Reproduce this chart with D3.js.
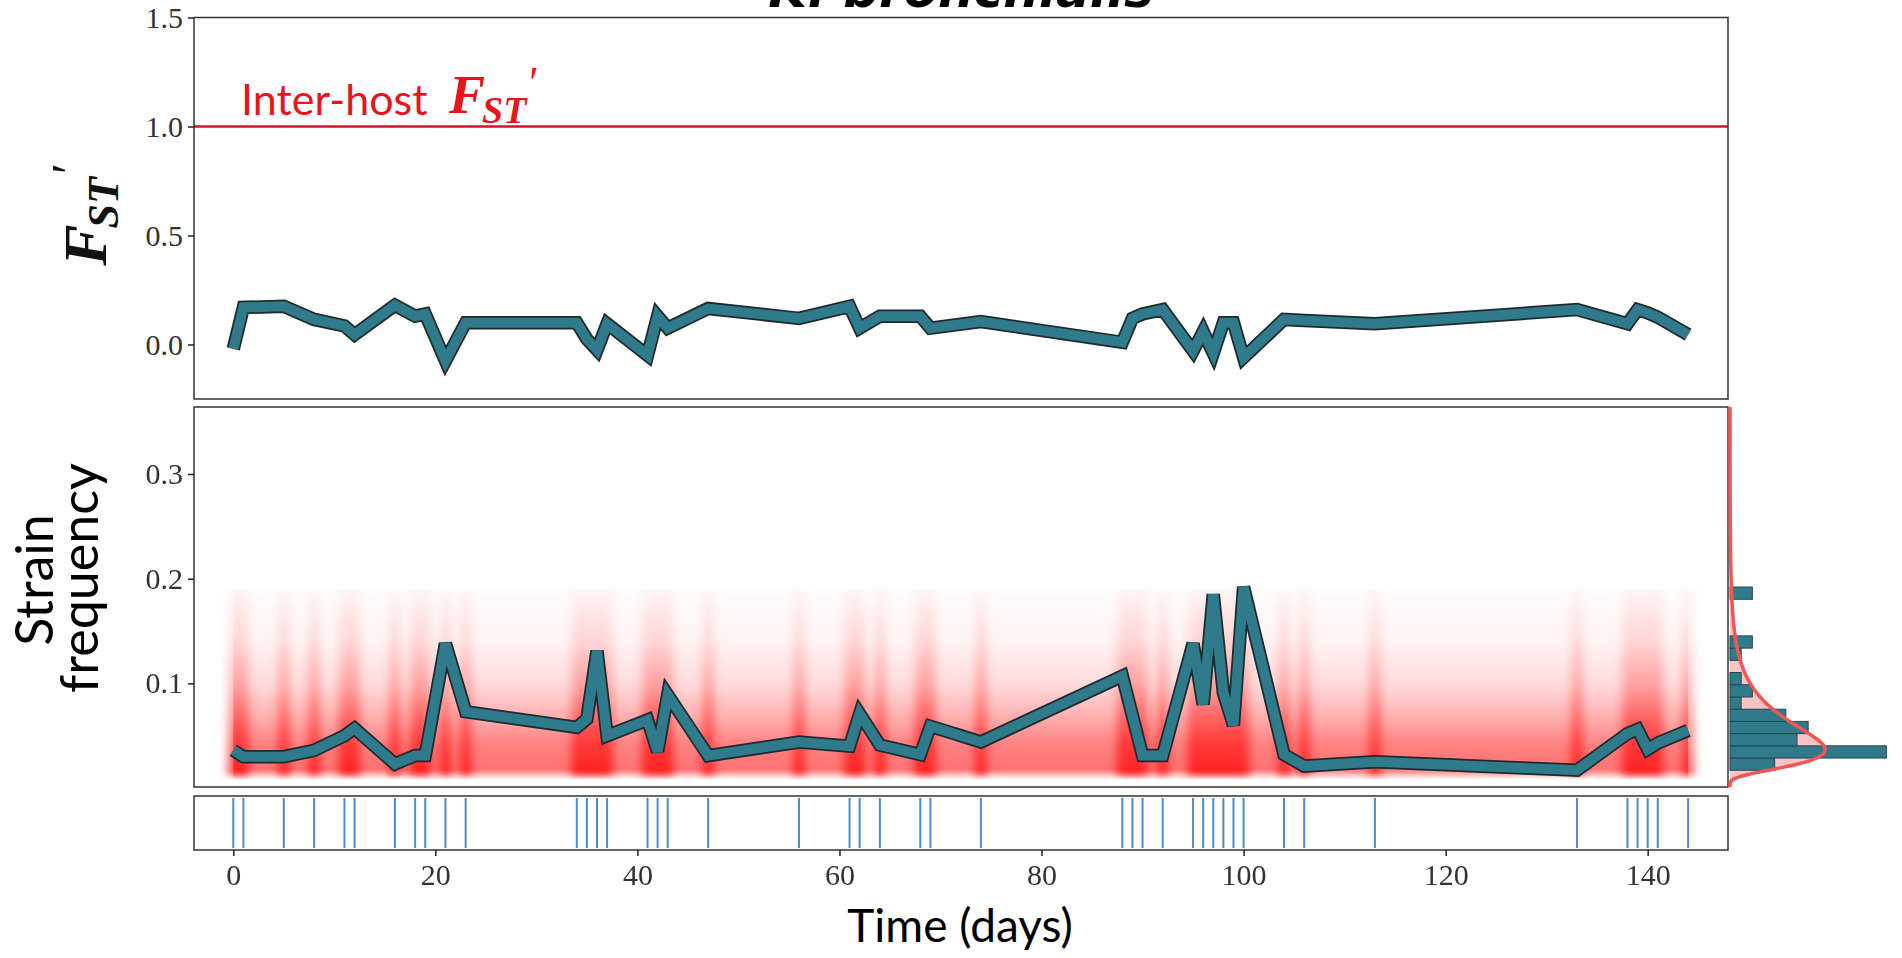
<!DOCTYPE html>
<html>
<head>
<meta charset="utf-8">
<script src="https://cdn.jsdelivr.net/npm/d3@7"></script>
<style>
  body { margin: 0; background: #fff; }
  #chart { width: 1902px; height: 958px; overflow: hidden; }
</style>
</head>
<body>
<div id="chart"></div>
<script>
// sampling days
const days = [0, 1, 5, 8, 11, 12, 16, 18, 19, 21, 23, 34, 35, 36, 37, 41, 42, 43,
  47, 56, 61, 62, 64, 68, 69, 74, 88, 89, 90, 92, 95, 96, 97, 98, 99, 100,
  104, 106, 113, 133, 138, 139, 140, 141, 144];

// mean strain frequency at each day
const strainFreq = [0.036, 0.030, 0.030, 0.036, 0.050, 0.057, 0.023, 0.031, 0.031, 0.138, 0.073,
  0.058, 0.066, 0.131, 0.050, 0.065, 0.035, 0.089,
  0.031, 0.044, 0.040, 0.071, 0.041, 0.032, 0.059, 0.044, 0.107, 0.069, 0.031, 0.031,
  0.138, 0.080, 0.185, 0.091, 0.060, 0.192,
  0.032, 0.021, 0.025, 0.017, 0.052, 0.056, 0.037, 0.043, 0.055];

// FST' at each day
const fst = [-0.02, 0.17, 0.175, 0.115, 0.085, 0.045, 0.18, 0.13, 0.14, -0.075, 0.10,
  0.10, 0.025, -0.025, 0.095, -0.05, 0.13, 0.075,
  0.165, 0.12, 0.175, 0.075, 0.13, 0.13, 0.075, 0.105, 0.01, 0.12, 0.14, 0.16,
  -0.03, 0.06, -0.04, 0.10, 0.10, -0.06,
  0.115, 0.11, 0.095, 0.16, 0.095, 0.16, 0.145, 0.125, 0.045];

const interHostFst = 1.0;
const fstTicks = [0.0, 0.5, 1.0, 1.5];
const freqTicks = [0.1, 0.2, 0.3];
const dayTicks = [0, 20, 40, 60, 80, 100, 120, 140];

const width = 1902;
const height = 958;
const left = 194, right = 1728;
const teal = "#2f7b8c";
const serif = "'Liberation Serif', 'DejaVu Serif', serif";
const sans = "Lato, 'Open Sans', sans-serif";

const svg = d3
  .select("#chart")
  .append("svg")
  .attr("width", width)
  .attr("height", height);

const x = d3.scaleLinear().domain([-3.89, 147.95]).range([left, right]);
const yTop = d3.scaleLinear().domain([-0.25, 1.5]).range([399, 17.5]);
const yLow = d3.scaleLinear().domain([0.001, 0.364]).range([787, 407]);

const fstData = days.map((d, i) => ({ t: d, v: fst[i] }));
const freqData = days.map((d, i) => ({ t: d, v: strainFreq[i] }));

// gradients for the red posterior cloud
const defs = svg.append("defs");
function makeGrad(id, stops) {
  let g = defs
    .append("linearGradient")
    .attr("id", id)
    .attr("gradientUnits", "userSpaceOnUse")
    .attr("x1", 0).attr("x2", 0)
    .attr("y1", yLow(0.008))
    .attr("y2", yLow(0.19));
  stops.forEach((s) => {
    g.append("stop")
      .attr("offset", (s[0] - 0.008) / (0.19 - 0.008))
      .attr("stop-color", "#ff0000")
      .attr("stop-opacity", s[1]);
  });
}
makeGrad("cloud", [[0.008, 0], [0.018, 0.55], [0.04, 0.5], [0.07, 0.3], [0.1, 0.14], [0.14, 0.05], [0.19, 0.01]]);
makeGrad("streak", [[0.008, 0], [0.016, 0.75], [0.05, 0.55], [0.09, 0.3], [0.14, 0.12], [0.19, 0.03]]);
defs.append("filter")
  .attr("id", "soft")
  .attr("x", "-5%").attr("width", "110%")
  .append("feGaussianBlur")
  .attr("stdDeviation", "4 1");

// title (mostly cut off at the top)
svg.append("text")
  .attr("x", (left + right) / 2)
  .attr("y", 7)
  .attr("text-anchor", "middle")
  .style("font-family", "'DejaVu Sans', sans-serif")
  .style("font-style", "italic")
  .style("font-weight", "bold")
  .style("font-size", "50px")
  .text("K. bronchialis");

// ---------- top panel: FST' ----------
svg.append("line")
  .attr("x1", left).attr("x2", right)
  .attr("y1", yTop(interHostFst)).attr("y2", yTop(interHostFst))
  .attr("stroke", "#d2152b")
  .attr("stroke-width", 2.5);

let lab = svg.append("g").attr("fill", "#e8141c");
lab.append("text")
  .attr("x", 241).attr("y", 115)
  .style("font-family", sans)
  .style("font-size", "43px")
  .text("Inter-host");
let labF = lab.append("text")
  .attr("x", 449).attr("y", 113)
  .style("font-family", serif)
  .style("font-style", "italic")
  .style("font-weight", "bold")
  .style("font-size", "54px");
labF.append("tspan").text("F");
labF.append("tspan").attr("dx", -3).attr("dy", 10).style("font-size", "38px").text("ST");
labF.append("tspan").attr("dy", -26).style("font-size", "44px").style("font-weight", "normal").text("′");

const fstLine = d3.line().x((d) => x(d.t)).y((d) => yTop(d.v));
svg.append("path").datum(fstData)
  .attr("d", fstLine).attr("fill", "none")
  .attr("stroke", "#1e2a2e").attr("stroke-width", 13.5)
  .attr("stroke-linejoin", "miter");
svg.append("path").datum(fstData)
  .attr("d", fstLine).attr("fill", "none")
  .attr("stroke", teal).attr("stroke-width", 10)
  .attr("stroke-linejoin", "miter");

svg.append("rect")
  .attr("x", left).attr("y", 17.5)
  .attr("width", right - left).attr("height", 399 - 17.5)
  .attr("fill", "none").attr("stroke", "#333").attr("stroke-width", 1.5);

let axTop = svg.append("g")
  .attr("transform", `translate(${left},0)`)
  .call(d3.axisLeft(yTop).tickValues(fstTicks).tickFormat(d3.format(".1f")).tickSize(6).tickPadding(5));

// y label FST'
let yl = svg.append("text")
  .attr("transform", "translate(106,216) rotate(-90)")
  .attr("text-anchor", "middle")
  .style("font-family", serif)
  .style("font-style", "italic")
  .style("font-weight", "bold")
  .style("font-size", "62px")
  .attr("fill", "#111");
yl.append("tspan").text("F");
yl.append("tspan").attr("dx", -4).attr("dy", 12).style("font-size", "44px").text("ST");
yl.append("tspan").attr("dy", -32).style("font-size", "50px").style("font-weight", "normal").text("′");

// ---------- middle panel: strain frequency ----------
let cloud = svg.append("g");
cloud.append("rect")
  .attr("x", x(days[0]))
  .attr("width", x(days[days.length - 1]) - x(days[0]))
  .attr("y", yLow(0.19))
  .attr("height", yLow(0.008) - yLow(0.19))
  .attr("fill", "url(#cloud)");
cloud.append("g")
  .attr("filter", "url(#soft)")
  .selectAll(".streak")
  .data(days)
  .enter()
  .append("rect")
  .attr("class", "streak")
  .attr("x", (d) => x(d) - 6)
  .attr("width", 12)
  .attr("y", yLow(0.19))
  .attr("height", yLow(0.008) - yLow(0.19))
  .attr("fill", "url(#streak)")
  .attr("opacity", 0.85);

const freqLine = d3.line().x((d) => x(d.t)).y((d) => yLow(d.v));
svg.append("path").datum(freqData)
  .attr("d", freqLine).attr("fill", "none")
  .attr("stroke", "#1e2a2e").attr("stroke-width", 13.5)
  .attr("stroke-linejoin", "miter");
svg.append("path").datum(freqData)
  .attr("d", freqLine).attr("fill", "none")
  .attr("stroke", teal).attr("stroke-width", 10)
  .attr("stroke-linejoin", "miter");

svg.append("rect")
  .attr("x", left).attr("y", 407)
  .attr("width", right - left).attr("height", 787 - 407)
  .attr("fill", "none").attr("stroke", "#333").attr("stroke-width", 1.5);

let axLow = svg.append("g")
  .attr("transform", `translate(${left},0)`)
  .call(d3.axisLeft(yLow).tickValues(freqTicks).tickFormat(d3.format(".1f")).tickSize(6).tickPadding(5));

svg.append("text")
  .attr("transform", "translate(53,580) rotate(-90)")
  .attr("text-anchor", "middle")
  .style("font-family", sans)
  .style("font-size", "52px")
  .text("Strain");
svg.append("text")
  .attr("transform", "translate(98,578) rotate(-90)")
  .attr("text-anchor", "middle")
  .style("font-family", sans)
  .style("font-size", "52px")
  .text("frequency");

// ---------- marginal histogram + fitted curve ----------
const fmin = d3.min(strainFreq), fmax = d3.max(strainFreq);
const nb = 15;
const bw = (fmax - fmin) / nb;
const bins = d3.bin()
  .domain([fmin, fmax])
  .thresholds(d3.range(1, nb).map((i) => fmin + i * bw))(strainFreq);
const N = strainFreq.length;
const xH = d3.scaleLinear().domain([0, 29]).range([1730, 1900]);

// log-normal fit to the frequencies
const logs = strainFreq.map((v) => Math.log(v));
const mu = d3.mean(logs);
const sig = d3.deviation(logs);
const grid = d3.range(0.001, 0.3641, 0.001);
const fit = grid.map((g) => [
  g,
  Math.exp(-((Math.log(g) - mu) ** 2) / (2 * sig * sig)) / (g * sig * Math.sqrt(2 * Math.PI)),
]);
fit.unshift([0.001, 0]);

svg.append("path").datum(fit)
  .attr("d", d3.area().y((d) => yLow(d[0])).x0(xH(0)).x1((d) => xH(d[1])))
  .attr("fill", "#f47c7c").attr("fill-opacity", 0.45);

svg.selectAll(".hbar")
  .data(bins.filter((b) => b.length > 0))
  .enter()
  .append("rect")
  .attr("class", "hbar")
  .attr("x", xH(0))
  .attr("y", (b) => yLow(b.x1))
  .attr("height", (b) => yLow(b.x0) - yLow(b.x1))
  .attr("width", (b) => xH(b.length / (N * bw)) - xH(0))
  .attr("fill", teal)
  .attr("stroke", "#24454f")
  .attr("stroke-width", 1);

svg.append("path").datum(fit)
  .attr("d", d3.line().y((d) => yLow(d[0])).x((d) => xH(d[1])))
  .attr("fill", "none")
  .attr("stroke", "#f25555")
  .attr("stroke-width", 3.5);

// ---------- rug of sampling days ----------
svg.selectAll(".rug")
  .data(days)
  .enter()
  .append("line")
  .attr("class", "rug")
  .attr("x1", (d) => x(d)).attr("x2", (d) => x(d))
  .attr("y1", 798).attr("y2", 848)
  .attr("stroke", "#4a8ccc")
  .attr("stroke-width", 2);

svg.append("rect")
  .attr("x", left).attr("y", 796)
  .attr("width", right - left).attr("height", 850 - 796)
  .attr("fill", "none").attr("stroke", "#333").attr("stroke-width", 1.5);

let axX = svg.append("g")
  .attr("transform", "translate(0,850)")
  .call(d3.axisBottom(x).tickValues(dayTicks).tickSize(6).tickPadding(8));

svg.append("text")
  .attr("x", 960).attr("y", 942)
  .attr("text-anchor", "middle")
  .style("font-family", sans)
  .style("font-size", "46px")
  .text("Time (days)");

// axis styling
[axTop, axLow, axX].forEach((a) => {
  a.select(".domain").remove();
  a.selectAll(".tick line").attr("stroke", "#222").attr("stroke-width", 1.5);
  a.selectAll(".tick text")
    .style("font-family", serif)
    .style("font-size", "30px")
    .attr("fill", "#333");
});
</script>
</body>
</html>
